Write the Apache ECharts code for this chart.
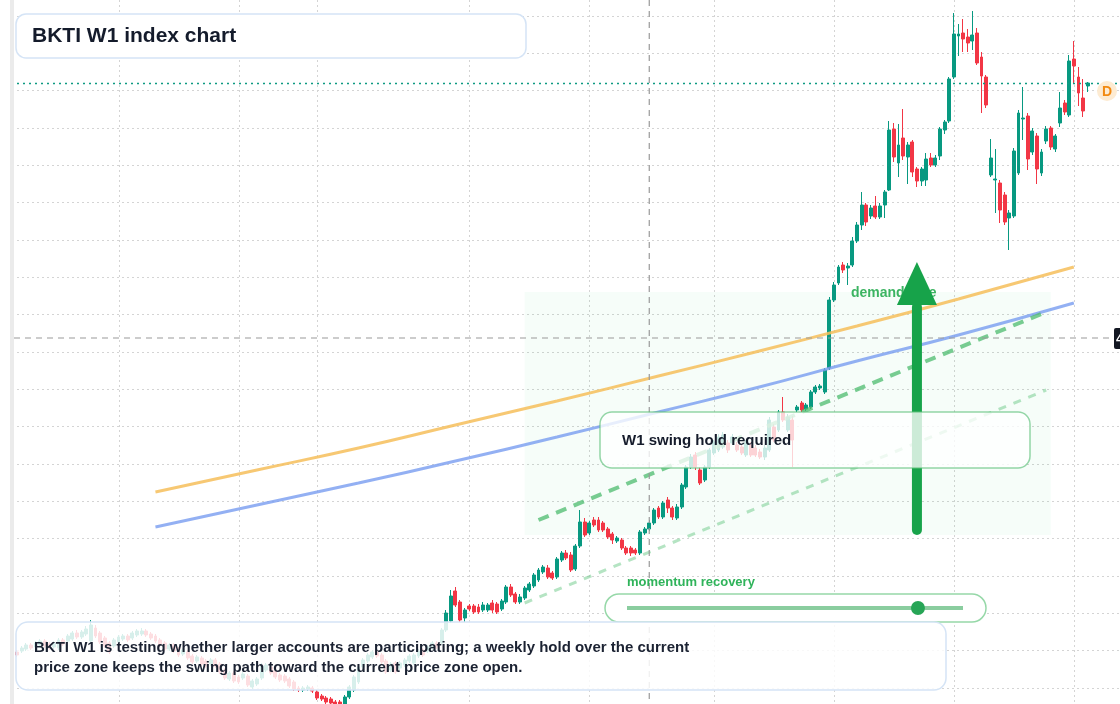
<!DOCTYPE html>
<html>
<head>
<meta charset="utf-8">
<title>BKTI W1 index chart</title>
<script src="https://cdn.jsdelivr.net/npm/echarts/dist/echarts.min.js"></script>
<style>
  html, body { margin: 0; padding: 0; background: #fff; }
  #chart { width: 1120px; height: 704px; }
</style>
</head>
<body>
<div id="chart"></div>
<script>
// weekly candles: [open, close, low, high]
var ohlc = [
  [148,145,143,150],[149,152,147,154],[151,155,149,157],[155,152,150,157],[153,157,151,159],
  [155,159,153,161],[159,154,152,161],[156,152,150,158],[153,157,151,159],[152,160,150,162],
  [160,156,154,162],[159,164,157,166],[161,167,159,169],[167,163,161,170],[163,168,161,170],
  [166,171,164,174],[159,175,157,180],[172,164,162,175],[167,158,156,169],[162,154,152,164],
  [157,148,146,159],[154,160,152,162],[158,163,156,165],[161,164,159,166],[164,160,158,166],
  [162,167,160,169],[165,169,163,171],[166,169,164,172],[169,165,163,171],[166,162,160,168],
  [164,159,157,166],[160,155,153,162],[157,151,149,159],[151,155,149,157],[155,149,147,157],
  [151,145,143,153],[146,150,144,152],[148,142,140,150],[144,138,136,146],[139,143,137,145],
  [142,136,134,144],[139,134,132,141],[136,140,134,142],[140,134,132,142],[136,128,126,138],
  [130,122,120,132],[121,127,119,129],[127,119,117,129],[123,118,116,125],[122,126,120,128],
  [124,115,113,126],[113,119,111,121],[116,121,114,123],[122,134,120,137],[130,135,128,137],
  [133,127,125,135],[129,123,121,131],[125,120,118,127],[124,119,117,126],[121,114,112,123],
  [118,111,109,120],[112,110,108,114],[110,112,108,114],[111,113,109,115],[112,109,107,114],
  [108,102,100,110],[104,101,99,106],[102,98,96,104],[101,97,95,103],[98,95,93,100],
  [98,94,92,100],[94,103,92,105],[103,113,101,115],[110,123,108,125],[118,133,116,135],
  [133,140,131,142],[139,145,137,147],[143,148,141,150],[148,144,142,150],[145,138,136,147],
  [139,128,126,141],[130,136,128,138],[137,128,126,139],[132,137,130,139],[135,140,133,142],
  [139,144,137,146],[137,145,135,147],[144,149,142,151],[150,145,143,152],[149,153,147,155],
  [152,157,150,159],[157,153,151,159],[157,170,155,172],[170,187,168,190],[179,204,177,210],
  [209,195,193,213],[198,180,178,200],[182,190,178,192],[194,191,189,196],[194,188,186,196],
  [193,188,186,196],[190,195,188,198],[190,195,188,197],[197,190,187,200],[196,188,186,198],
  [191,199,189,201],[198,213,196,215],[213,205,203,216],[206,198,196,208],[198,203,196,206],
  [202,212,200,214],[210,216,208,218],[214,225,212,227],[220,230,218,232],[228,233,226,235],
  [232,223,221,235],[227,222,220,229],[223,241,221,243],[240,247,238,249],[247,242,240,250],
  [245,230,228,248],[231,254,229,256],[254,278,252,290],[278,265,263,282],[267,277,265,279],
  [280,275,273,283],[280,270,268,283],[277,270,268,279],[271,263,261,273],[266,260,256,268],
  [259,262,257,264],[260,252,250,262],[252,247,245,254],[252,247,244,254],[250,247,245,252],
  [247,268,245,270],[267,271,265,273],[271,277,269,280],[277,290,275,292],[292,283,281,294],
  [283,297,281,299],[300,292,287,303],[292,283,280,294],[282,293,280,296],[293,315,291,317],
  [313,333,311,335],[333,343,331,346],[345,333,330,348],[330,317,315,333],[320,333,318,335],
  [333,350,331,352],[347,358,345,360],[350,363,348,366],[353,365,351,368],[357,350,347,360],
  [357,363,355,366],[355,350,348,358],[353,347,345,355],[345,357,343,360],[355,345,343,358],
  [352,345,343,355],[348,343,341,351],[343,352,340,355],[350,380,348,383],[373,360,358,376],
  [370,388,368,390],[388,380,378,403],[370,383,368,386],[380,360,333,384],[390,393,388,395],
  [397,390,388,399],[391,395,389,397],[393,408,391,410],[408,413,406,415],[412,414,410,416],
  [408,430,406,432],[432,500,430,503],[500,515,498,518],[517,533,515,535],[535,530,527,538],
  [532,534,515,537],[535,559,533,563],[559,575,557,578],[575,595,570,608],[595,578,574,597],
  [584,592,581,595],[594,583,581,604],[583,594,581,597],[595,608,582,610],[610,670,609,679],
  [671,643,638,677],[637,655,623,676],[662,644,640,691],[643,655,616,658],[658,628,623,660],
  [631,619,613,633],[619,631,614,633],[620,641,614,647],[642,635,633,647],[635,642,633,645],
  [644,671,640,673],[670,678,666,680],[679,721,677,723],[723,766,721,787],[764,766,744,776],
  [767,761,748,781],[763,757,748,771],[759,765,750,789],[767,737,735,772],[743,724,687,748],
  [723,695,692,725],[625,642,623,661],[620,621,587,651],[617,590,577,620],[605,578,575,608],
  [582,587,550,590],[584,649,582,652],[627,687,625,690],[681,682,660,713],[684,641,630,687],
  [648,669,645,672],[664,631,616,667],[627,648,624,651],[659,671,656,674],[672,653,650,674],
  [651,664,648,666],[677,692,673,708],[697,688,685,700],[685,739,683,745],[741,734,717,759],
  [723,707,694,733],[702,689,683,721],[714,717,708,718]
];
var totalWeeks = 240;
var gridWeeks = [22, 48, 65, 98, 124, 151, 177, 203, 229];
var maSlow = [[30, 308], [52, 330], [74, 352], [95, 375], [117, 399], [139, 424], [160, 448], [182, 474], [204, 501], [229, 533]];
var maFast = [[30, 273], [52, 295], [74, 317], [95, 339], [117, 363], [139, 388], [160, 412], [182, 439], [204, 465], [229, 497]];
var trendUpper = [[113, 280], [223, 488]];
var trendLower = [[110, 197], [223, 410]];
var demandZone = [110, 224, 508, 265];   // from week, to week, top, bottom
var arrowWeek = 195, arrowFrom = 270, arrowBase = 495, arrowTip = 538;
var crossWeek = 137, crossPrice = 462;
var momentum = 0.866;

var weeks = [];
var d0 = new Date(Date.UTC(2020, 0, 6));
for (var i = 0; i < totalWeeks; i++) {
  var d = new Date(d0.getTime() + i * 7 * 86400000);
  weeks.push(d.toISOString().slice(0, 10));
}
var lastClose = ohlc[ohlc.length - 1][1];
var UP = '#089981', DOWN = '#f23645';
var FONT = '"Liberation Sans", Arial, sans-serif';
var GRID_LINE = { stroke: '#d4d4d4', lineWidth: 1, lineDash: [2, 3] };

var chart = echarts.init(document.getElementById('chart'));
chart.setOption({
  animation: false,
  backgroundColor: '#fff',
  grid: { left: 17, right: 0, top: 16, bottom: 16, outerBoundsMode: 'none' },
  xAxis: {
    type: 'category',
    data: weeks,
    boundaryGap: false,
    axisLine: { show: false },
    axisTick: { show: false },
    axisLabel: { show: false },
    splitLine: { show: false }
  },
  yAxis: {
    type: 'value',
    position: 'right',
    min: 112,
    max: 784,
    interval: 112 / 3,
    axisLine: { show: false },
    axisTick: { show: false },
    axisLabel: { show: false },
    splitLine: { lineStyle: { color: '#d4d4d4', type: [2, 3], width: 1 } }
  },
  series: [
    {
      type: 'candlestick',
      data: ohlc,
      clip: false,
      barWidth: 3.4,
      z: 3,
      itemStyle: { color: UP, color0: DOWN, borderColor: UP, borderColor0: DOWN, borderWidth: 1 },
      markArea: {
        silent: true,
        itemStyle: { color: 'rgba(34,197,94,0.04)' },
        data: [[{ xAxis: demandZone[0], yAxis: demandZone[2] }, { xAxis: demandZone[1], yAxis: demandZone[3] }]]
      },
      markLine: {
        silent: true,
        symbol: 'none',
        label: { show: false },
        lineStyle: { color: '#0e9a82', type: [2, 4], width: 1.4 },
        data: [{ yAxis: lastClose }]
      }
    },
    {
      type: 'line', data: maSlow, smooth: true, showSymbol: false, z: 4,
      lineStyle: { color: 'rgba(246,190,90,0.85)', width: 3 }
    },
    {
      type: 'line', data: maFast, smooth: true, showSymbol: false, z: 4,
      lineStyle: { color: 'rgba(120,156,240,0.8)', width: 3 }
    },
    {
      type: 'line', data: trendUpper, showSymbol: false, z: 4,
      lineStyle: { color: 'rgba(76,187,110,0.75)', width: 4, type: [11, 8] }
    },
    {
      type: 'line', data: trendLower, showSymbol: false, z: 4,
      lineStyle: { color: 'rgba(120,205,145,0.55)', width: 3, type: [8, 8] }
    }
  ]
});

function px(week, price) {
  return chart.convertToPixel({ xAxisIndex: 0, yAxisIndex: 0 }, [week, price]);
}
var cross = px(crossWeek, crossPrice);
var aBottom = px(arrowWeek, arrowFrom);
var aBase = px(arrowWeek, arrowBase);
var aTip = px(arrowWeek, arrowTip);
var ax = aBottom[0];
var trackX0 = 627, trackX1 = 963;

// vertical week grid lines run the full height of the page
var graphics = gridWeeks.map(function (w) {
  var x = Math.round(px(w, 400)[0]) + 0.5;
  return { type: 'line', z: 0, shape: { x1: x, y1: 0, x2: x, y2: 704 }, style: GRID_LINE };
});

graphics = graphics.concat([
  { type: 'rect', z: 1, shape: { x: 10, y: 0, width: 4, height: 704 }, style: { fill: '#ebebeb' } },
  // crosshair
  { type: 'line', z: 5, shape: { x1: cross[0], y1: 0, x2: cross[0], y2: 704 },
    style: { stroke: '#9a9a9a', lineWidth: 1.2, lineDash: [6, 5] } },
  { type: 'line', z: 5, shape: { x1: 14, y1: cross[1], x2: 1114, y2: cross[1] },
    style: { stroke: '#9a9a9a', lineWidth: 1.2, lineDash: [6, 5] } },
  { type: 'rect', z: 6, shape: { x: 1114, y: cross[1] - 10, width: 40, height: 21, r: 2 }, style: { fill: '#131722' } },
  { type: 'text', z: 7, style: { x: 1116, y: cross[1] + 1, text: crossPrice.toString(), fill: '#fff',
    font: 'bold 13px ' + FONT, textVerticalAlign: 'middle', verticalAlign: 'middle' } },
  // last price marker
  { type: 'circle', z: 6, shape: { cx: 1107, cy: 91, r: 10 }, style: { fill: '#fdebd2' } },
  { type: 'text', z: 7, style: { x: 1107, y: 92, text: 'D', fill: '#f28a12', font: 'bold 14px ' + FONT,
    align: 'center', textAlign: 'center', verticalAlign: 'middle', textVerticalAlign: 'middle' } },
  // demand side zone label and arrow
  { type: 'text', z: 40, style: { x: 851, y: 293, text: 'demand side', fill: '#3cb462', font: 'bold 14px ' + FONT,
    verticalAlign: 'middle', textVerticalAlign: 'middle' } },
  { type: 'line', z: 50, shape: { x1: ax, y1: aBottom[1], x2: ax, y2: aBase[1] + 2 },
    style: { stroke: '#17a34a', lineWidth: 10, lineCap: 'round' } },
  { type: 'polygon', z: 50, shape: { points: [[ax - 20, aBase[1]], [ax + 20, aBase[1]], [ax, aTip[1]]] },
    style: { fill: '#17a34a' } },
  // swing box
  { type: 'rect', z: 60, shape: { x: 600, y: 412, width: 430, height: 56, r: 12 },
    style: { fill: 'rgba(255,255,255,0.78)', stroke: 'rgba(92,192,122,0.65)', lineWidth: 1.5 } },
  { type: 'text', z: 61, style: { x: 622, y: 441, text: 'W1 swing hold required', fill: '#151c2b',
    font: 'bold 15px ' + FONT, verticalAlign: 'middle', textVerticalAlign: 'middle' } },
  // momentum slider
  { type: 'text', z: 61, style: { x: 627, y: 582, text: 'momentum recovery', fill: '#2fb35a',
    font: 'bold 13px ' + FONT, verticalAlign: 'middle', textVerticalAlign: 'middle' } },
  { type: 'rect', z: 60, shape: { x: 605, y: 594, width: 381, height: 28, r: 14 },
    style: { fill: '#fff', stroke: 'rgba(80,190,110,0.6)', lineWidth: 1.5 } },
  { type: 'line', z: 61, shape: { x1: trackX0, y1: 608, x2: trackX1, y2: 608 },
    style: { stroke: 'rgba(60,172,95,0.6)', lineWidth: 4 } },
  { type: 'circle', z: 62, shape: { cx: trackX0 + momentum * (trackX1 - trackX0), cy: 608, r: 7 },
    style: { fill: '#27a556' } },
  // title
  { type: 'rect', z: 70, shape: { x: 16, y: 14, width: 510, height: 44, r: 10 },
    style: { fill: '#fff', stroke: '#d5e4f6', lineWidth: 1.5 } },
  { type: 'text', z: 71, style: { x: 32, y: 36, text: 'BKTI W1 index chart', fill: '#141b2b',
    font: 'bold 21px ' + FONT, verticalAlign: 'middle', textVerticalAlign: 'middle' } },
  // commentary
  { type: 'rect', z: 70, shape: { x: 16, y: 622, width: 930, height: 68, r: 12 },
    style: { fill: 'rgba(255,255,255,0.84)', stroke: '#d5e4f6', lineWidth: 1.5 } },
  { type: 'text', z: 71, style: { x: 34, y: 648,
    text: 'BKTI W1 is testing whether larger accounts are participating; a weekly hold over the current',
    fill: '#1b2232', font: 'bold 15px ' + FONT, verticalAlign: 'middle', textVerticalAlign: 'middle' } },
  { type: 'text', z: 71, style: { x: 34, y: 668,
    text: 'price zone keeps the swing path toward the current price zone open.',
    fill: '#1b2232', font: 'bold 15px ' + FONT, verticalAlign: 'middle', textVerticalAlign: 'middle' } }
]);

chart.setOption({ graphic: graphics });
</script>
</body>
</html>
